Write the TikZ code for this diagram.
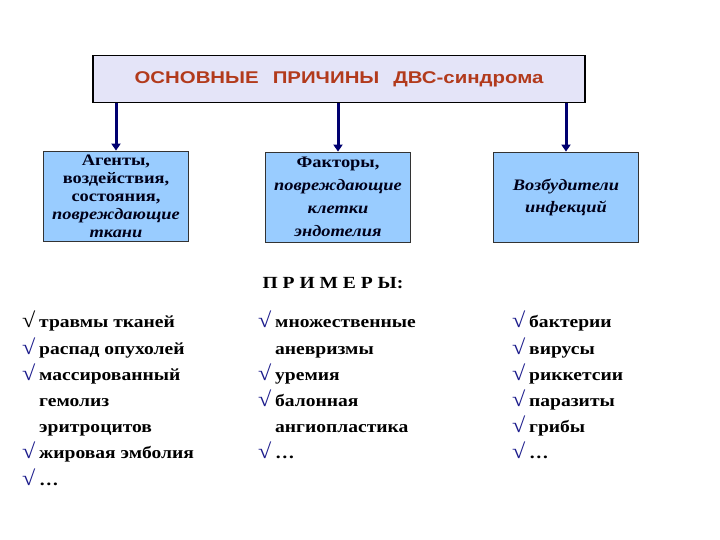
\documentclass[tikz,border=0pt]{standalone}
\usepackage{fontspec}
\setmainfont{Liberation Serif}[FakeStretch=1.15]
\newfontfamily\arialfont{Liberation Sans}[FakeStretch=1.2]
\usetikzlibrary{arrows.meta, positioning}

\definecolor{titlered}{HTML}{B23A1C}
\definecolor{titlefill}{HTML}{E4E4F8}
\definecolor{boxfill}{HTML}{99CCFF}
\definecolor{navy}{HTML}{000070}
\definecolor{checkblue}{HTML}{1C1C8C}

\newcommand{\chk}[1][checkblue]{\makebox[17pt][l]{\textcolor{#1}{\fontsize{21}{26}\selectfont √}}}
\newcommand{\ind}{\hspace*{17pt}}

\begin{document}
\begin{tikzpicture}[
    x=1pt, y=-1pt,
    headbox/.style={rectangle, draw=black, line width=1.4pt, fill=titlefill, minimum width=492pt, minimum height=47pt, font=\arialfont\bfseries\fontsize{17}{18}\selectfont, text=titlered},
    cause/.style={rectangle, draw=black!80, line width=0.8pt, fill=boxfill, minimum width=145pt, minimum height=90pt, align=center, inner sep=1pt, text=black!90!blue, font=\bfseries\fontsize{16}{18}\selectfont},
    arrow/.style={-{Triangle[width=9pt,length=7pt]}, line width=3pt, navy},
    examples/.style={anchor=north west, align=left, inner sep=0pt, font=\bfseries\fontsize{17}{26.2}\selectfont}
]
    \useasboundingbox[fill=white] (0,0) rectangle (720,540);

    \node[headbox] (title) at (339,79) {ОСНОВНЫЕ\hspace{14pt}ПРИЧИНЫ\hspace{14pt}ДВС-синдрома};

    \node[cause] (b1) at (116,196) {Агенты,\\воздействия,\\состояния,\\\textit{повреждающие}\\\textit{ткани}};
    \node[cause, font=\bfseries\fontsize{16}{23}\selectfont] (b2) at (338,197) {Факторы,\\\textit{повреждающие}\\\textit{клетки}\\\textit{эндотелия}};
    \node[cause, font=\bfseries\fontsize{16}{22}\selectfont] (b3) at (566,197) {\textit{Возбудители}\\\textit{инфекций}};

    \draw[arrow] (title.south -| b1) -- (b1.north);
    \draw[arrow] (title.south -| b2) -- (b2.north);
    \draw[arrow] (title.south -| b3) -- (b3.north);

    \node[anchor=base, font=\bfseries\fontsize{17}{18}\selectfont] (ex) at (333,288) {П Р И М Е Р Ы:};

    % lists of examples
    \node[examples] (l1) at (22,311) {\chk[black]травмы тканей\\\chk распад опухолей\\\chk массированный\\\ind гемолиз\\\ind эритроцитов\\\chk жировая эмболия\\\chk …};
    \node[examples] (l2) at (258,311) {\chk множественные\\\ind аневризмы\\\chk уремия\\\chk балонная\\\ind ангиопластика\\\chk …};
    \node[examples] (l3) at (512,311) {\chk бактерии\\\chk вирусы\\\chk риккетсии\\\chk паразиты\\\chk грибы\\\chk …};
\end{tikzpicture}
\end{document}
